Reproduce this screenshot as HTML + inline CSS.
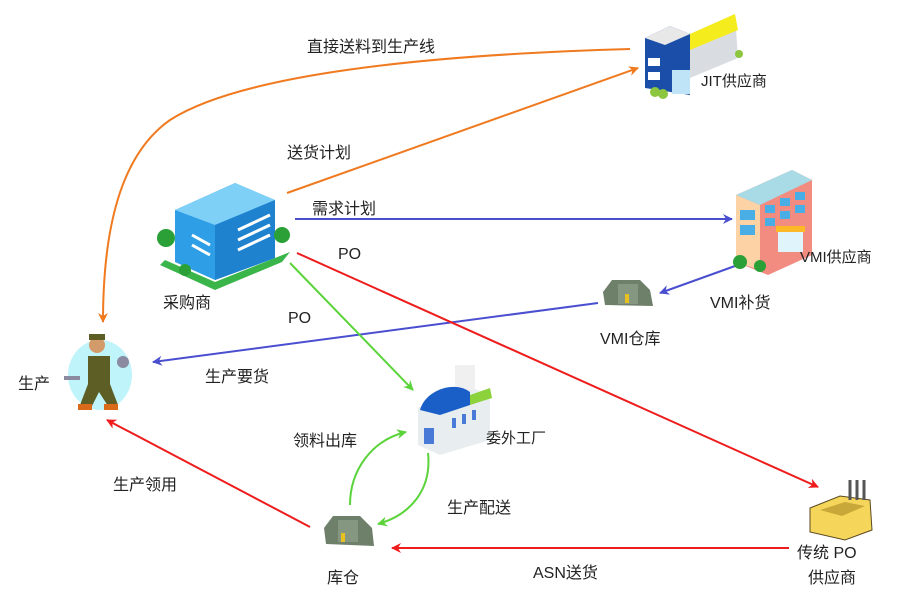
<!DOCTYPE html>
<html><head><meta charset="utf-8"><style>
html,body{margin:0;padding:0;background:#fff;}
svg{display:block;}
text{font-family:"Liberation Sans","Noto Sans CJK SC",sans-serif;font-size:16px;fill:#222;}
.s{font-size:15px;}
</style></head><body>
<svg width="908" height="595" viewBox="0 0 908 595" xmlns="http://www.w3.org/2000/svg">
<defs>
<marker id="ao" markerWidth="10" markerHeight="10" refX="9" refY="5" orient="auto" markerUnits="userSpaceOnUse"><path d="M0,0 L10,5 L0,10 L3,5z" fill="#f07a20"/></marker>
<marker id="ab" markerWidth="10" markerHeight="10" refX="9" refY="5" orient="auto" markerUnits="userSpaceOnUse"><path d="M0,0 L10,5 L0,10 L3,5z" fill="#4a4fd0"/></marker>
<marker id="ar" markerWidth="10" markerHeight="10" refX="9" refY="5" orient="auto" markerUnits="userSpaceOnUse"><path d="M0,0 L10,5 L0,10 L3,5z" fill="#ee1c1c"/></marker>
<marker id="ag" markerWidth="10" markerHeight="10" refX="9" refY="5" orient="auto" markerUnits="userSpaceOnUse"><path d="M0,0 L10,5 L0,10 L3,5z" fill="#5ad43a"/></marker>
</defs>

<!-- connectors -->
<g fill="none" stroke-width="2">
<path d="M630,49 C420,55 240,75 170,120 C120,155 103,230 103,322" stroke="#f07a20" marker-end="url(#ao)"/>
<path d="M287,193 L638,68" stroke="#f07a20" marker-end="url(#ao)"/>
<path d="M295,219 L732,219" stroke="#4a4fd0" marker-end="url(#ab)"/>
<path d="M735,266 L660,293" stroke="#4a4fd0" marker-end="url(#ab)"/>
<path d="M598,303 L153,362" stroke="#4a4fd0" marker-end="url(#ab)"/>
<path d="M297,253 L818,487" stroke="#ee1c1c" marker-end="url(#ar)"/>
<path d="M290,263 L413,390" stroke="#5ad43a" marker-end="url(#ag)"/>
<path d="M350,505 C350,470 372,440 406,432" stroke="#5ad43a" marker-end="url(#ag)"/>
<path d="M428,453 C432,490 410,515 378,524" stroke="#5ad43a" marker-end="url(#ag)"/>
<path d="M310,527 L107,420" stroke="#ee1c1c" marker-end="url(#ar)"/>
<path d="M789,548 L392,548" stroke="#ee1c1c" marker-end="url(#ar)"/>
</g>

<!-- JIT supplier -->
<g>
<polygon points="645,38 670,26 690,34 690,95 645,88" fill="#1b4ea8"/>
<polygon points="645,38 670,26 690,34 665,45" fill="#e8e8e8"/>
<polygon points="690,34 735,14 738,58 690,78" fill="#d9dde2"/>
<polygon points="690,34 735,14 738,30 690,50" fill="#f4ec1c"/>
<rect x="672" y="70" width="18" height="24" fill="#bfe4f7"/>
<rect x="648" y="58" width="12" height="8" fill="#fff"/>
<rect x="648" y="72" width="12" height="8" fill="#fff"/>
<circle cx="655" cy="92" r="5" fill="#8cc63f"/><circle cx="663" cy="94" r="5" fill="#8cc63f"/><circle cx="739" cy="54" r="4" fill="#8cc63f"/>
</g>
<text x="701" y="86" class="s">JIT供应商</text>

<!-- purchaser -->
<g>
<polygon points="175,210 235,183 275,200 275,258 215,280 175,262" fill="#2e9fe6"/>
<polygon points="175,210 235,183 275,200 215,225" fill="#7fd0f7"/>
<polygon points="215,225 275,200 275,258 215,280" fill="#1f82cf"/>
<g stroke="#fff" stroke-width="3"><line x1="238" y1="230" x2="270" y2="215"/><line x1="238" y1="240" x2="270" y2="225"/><line x1="238" y1="250" x2="270" y2="235"/><line x1="192" y1="235" x2="210" y2="245"/><line x1="192" y1="245" x2="210" y2="255"/></g>
<polygon points="165,260 215,282 290,252 282,262 215,290 160,265" fill="#3ab54a"/>
<circle cx="166" cy="238" r="9" fill="#2aa036"/><circle cx="282" cy="235" r="8" fill="#2aa036"/><circle cx="185" cy="270" r="6" fill="#2aa036"/>
</g>
<text x="163" y="308">采购商</text>

<!-- VMI supplier -->
<g>
<polygon points="736,195 792,170 812,180 812,255 768,275 736,262" fill="#f28b80"/>
<polygon points="736,195 760,205 760,270 736,262" fill="#fdd3a6"/>
<polygon points="736,195 792,170 812,180 760,205" fill="#a8dbe6"/>
<g fill="#4aaee6"><rect x="740" y="210" width="15" height="10"/><rect x="740" y="225" width="15" height="10"/><rect x="765" y="205" width="10" height="8"/><rect x="780" y="198" width="10" height="8"/><rect x="795" y="192" width="10" height="8"/><rect x="765" y="218" width="10" height="8"/><rect x="780" y="211" width="10" height="8"/><rect x="795" y="205" width="10" height="8"/></g>
<rect x="778" y="230" width="25" height="22" fill="#e0f4fb"/><rect x="776" y="226" width="29" height="6" fill="#fdb827"/>
<circle cx="740" cy="262" r="7" fill="#2aa036"/><circle cx="760" cy="266" r="6" fill="#2aa036"/>
</g>
<text x="800" y="262" class="s">VMI供应商</text>

<!-- VMI warehouse -->
<g>
<polygon points="603,292 612,280 640,280 650,290 653,306 605,305" fill="#6e7f6a"/>
<rect x="618" y="284" width="20" height="20" fill="#859681"/><rect x="625" y="294" width="4" height="9" fill="#e8c020"/>
</g>
<text x="600" y="344">VMI仓库</text>
<text x="710" y="308">VMI补货</text>

<!-- worker -->
<g>
<ellipse cx="100" cy="375" rx="32" ry="35" fill="#bff4fb"/>
<rect x="88" y="356" width="22" height="28" fill="#5c5e25"/>
<circle cx="97" cy="345" r="8" fill="#d49b6a"/><rect x="89" y="334" width="16" height="6" fill="#5c5e25"/>
<polygon points="88,384 110,384 118,405 108,406 99,392 92,406 80,405" fill="#5c5e25"/>
<rect x="78" y="404" width="14" height="6" fill="#d86a1a"/><rect x="104" y="404" width="14" height="6" fill="#d86a1a"/>
<circle cx="123" cy="362" r="6" fill="#8a8aa0"/><rect x="64" y="376" width="16" height="4" fill="#8a8aa0"/>
</g>
<text x="18" y="389">生产</text>
<text x="205" y="382">生产要货</text>

<!-- outsourcing factory -->
<g>
<polygon points="418,408 465,385 490,395 490,440 440,455 418,445" fill="#e8eef0"/>
<rect x="455" y="365" width="20" height="25" fill="#f0f0f0"/>
<path d="M420,410 C425,390 455,380 470,392 L470,405 L440,415z" fill="#1a5fc8"/>
<polygon points="470,395 490,388 492,398 470,405" fill="#8cd23a"/>
<g fill="#4a7ad8"><rect x="452" y="418" width="4" height="10"/><rect x="462" y="414" width="4" height="10"/><rect x="472" y="410" width="4" height="10"/><rect x="424" y="428" width="10" height="16"/></g>
</g>
<text x="486" y="443" class="s">委外工厂</text>
<text x="293" y="446">领料出库</text>
<text x="447" y="513">生产配送</text>
<text x="113" y="490">生产领用</text>

<!-- warehouse -->
<g>
<polygon points="324,528 333,516 360,516 372,528 374,546 326,544" fill="#6e7f6a"/>
<rect x="338" y="520" width="20" height="22" fill="#859681"/><rect x="341" y="533" width="4" height="9" fill="#e8c020"/>
</g>
<text x="327" y="583">库仓</text>
<text x="533" y="578">ASN送货</text>

<!-- traditional supplier -->
<g>
<polygon points="810,508 840,496 870,500 872,530 845,540 810,532" fill="#f5d65a" stroke="#5a4a20" stroke-width="1"/>
<polygon points="820,510 845,502 865,506 842,516" fill="#c8a838"/>
<g stroke="#555" stroke-width="3"><line x1="850" y1="480" x2="850" y2="500"/><line x1="857" y1="480" x2="857" y2="500"/><line x1="864" y1="480" x2="864" y2="500"/></g>
</g>
<text x="797" y="558">传统 PO</text>
<text x="808" y="583">供应商</text>

<!-- edge labels -->
<text x="307" y="52">直接送料到生产线</text>
<text x="287" y="158">送货计划</text>
<text x="312" y="214">需求计划</text>
<text x="338" y="259">PO</text>
<text x="288" y="323">PO</text>
</svg>
</body></html>
